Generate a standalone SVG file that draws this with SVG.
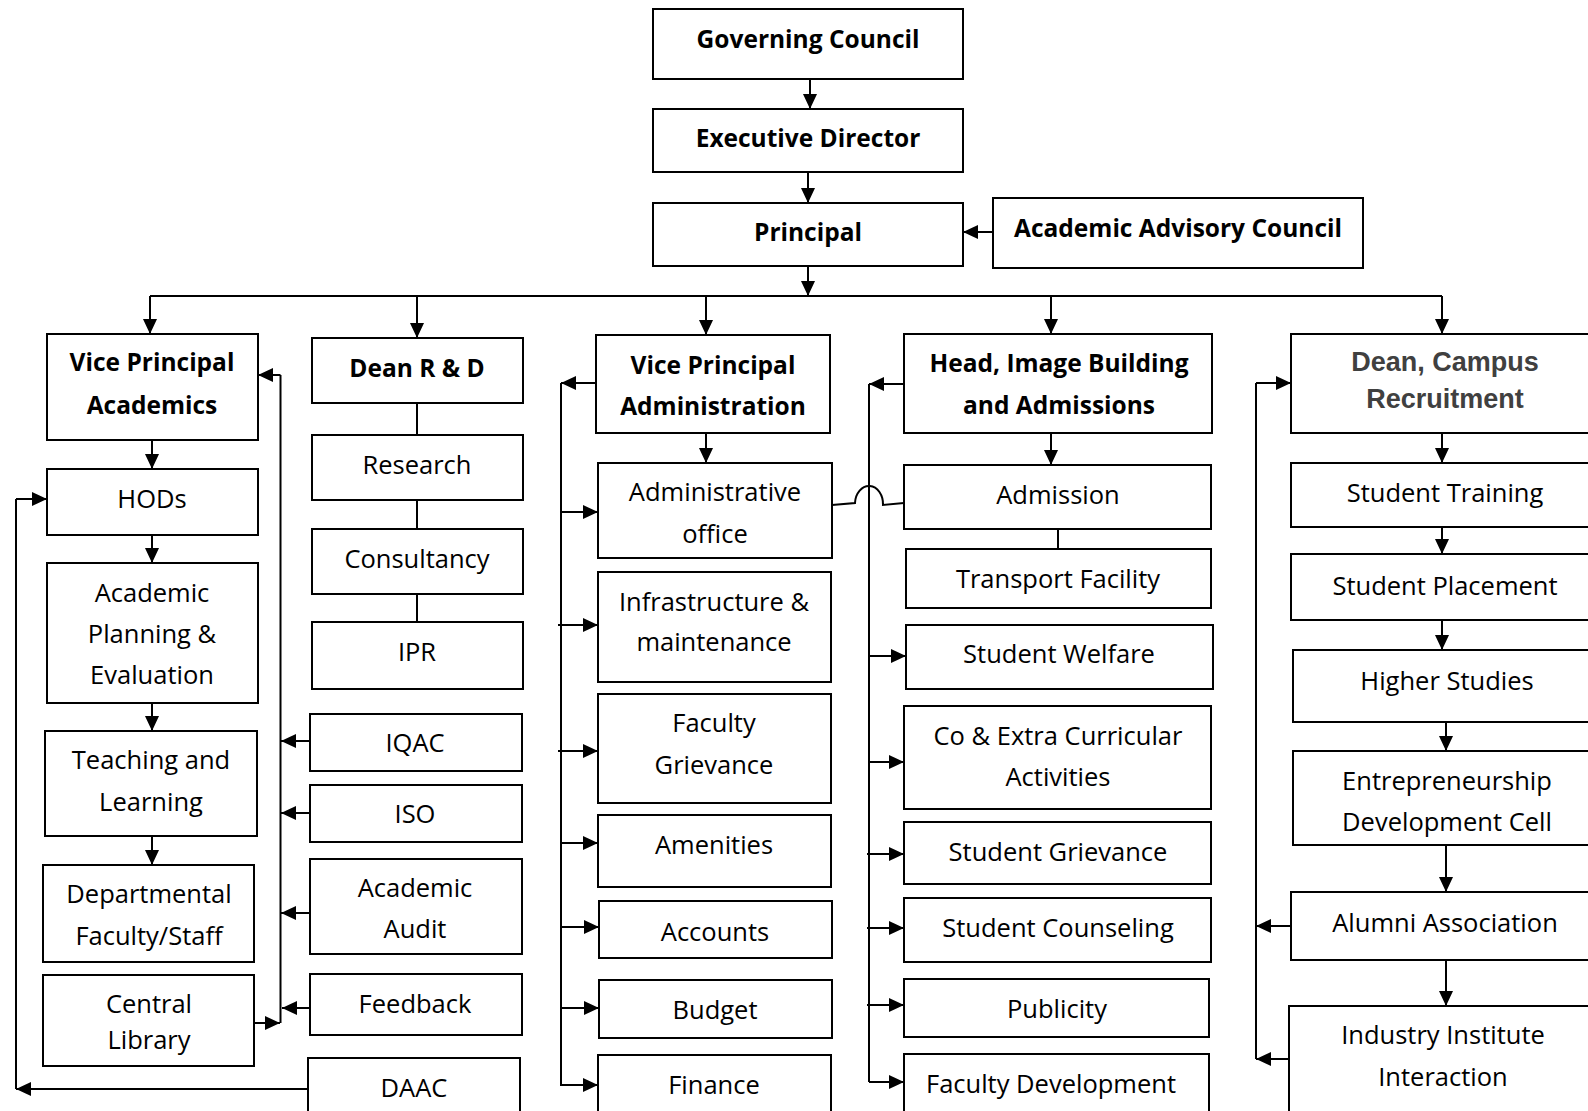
<svg xmlns="http://www.w3.org/2000/svg" width="1588" height="1111" viewBox="0 0 1588 1111">
<style>
.b{fill:#fff;stroke:#000;stroke-width:2}
.t{font-family:"Open Sans","Noto Sans",sans-serif;font-size:25.5px;fill:#000;text-anchor:middle}
.h{font-family:"Open Sans","Noto Sans",sans-serif;font-size:24.5px;font-weight:700;fill:#000;text-anchor:middle}
.g{font-family:"Liberation Sans",Arial,sans-serif;font-size:27px;font-weight:700;fill:#404040;text-anchor:middle}
.c{fill:none;stroke:#000;stroke-width:2}
.a{fill:none;stroke:#000;stroke-width:2;marker-end:url(#ah)}
</style>
<defs>
<marker id="ah" viewBox="0 0 15 14" refX="15" refY="7" markerWidth="15" markerHeight="14" markerUnits="userSpaceOnUse" orient="auto"><path d="M0,0 L15,7 L0,14 z" fill="#000"/></marker>
</defs>
<rect width="1588" height="1111" fill="#fff"/>
<g id="connectors">
<line class="a" x1="810" y1="79" x2="810" y2="109"/>
<line class="a" x1="808" y1="172" x2="808" y2="203"/>
<line class="a" x1="993" y1="232" x2="963" y2="232"/>
<line class="a" x1="808" y1="266" x2="808" y2="296"/>
<line class="c" x1="150" y1="296" x2="1442" y2="296"/>
<line class="a" x1="150" y1="296" x2="150" y2="334"/>
<line class="a" x1="417" y1="296" x2="417" y2="338"/>
<line class="a" x1="706" y1="296" x2="706" y2="335"/>
<line class="a" x1="1051" y1="296" x2="1051" y2="334"/>
<line class="a" x1="1442" y1="296" x2="1442" y2="334"/>
<line class="a" x1="152" y1="440" x2="152" y2="469"/>
<line class="a" x1="152" y1="535" x2="152" y2="563"/>
<line class="a" x1="152" y1="703" x2="152" y2="731"/>
<line class="a" x1="152" y1="836" x2="152" y2="865"/>
<polyline class="c" points="280.5,375 280.5,1023"/>
<line class="a" x1="280.5" y1="375" x2="258" y2="375"/>
<line class="a" x1="254" y1="1023" x2="280" y2="1023"/>
<line class="a" x1="310" y1="741" x2="281" y2="741"/>
<line class="a" x1="310" y1="813" x2="281" y2="813"/>
<line class="a" x1="310" y1="913" x2="281" y2="913"/>
<line class="a" x1="311" y1="1008" x2="282" y2="1008"/>
<polyline class="c" points="16,499 16,1089"/>
<line class="a" x1="16" y1="499" x2="47" y2="499"/>
<line class="a" x1="308" y1="1089" x2="16" y2="1089"/>
<line class="c" x1="417" y1="403" x2="417" y2="435"/>
<line class="c" x1="417" y1="500" x2="417" y2="529"/>
<line class="c" x1="417" y1="594" x2="417" y2="622"/>
<line class="a" x1="706" y1="433" x2="706" y2="463"/>
<polyline class="c" points="561,383 561,1085"/>
<line class="a" x1="596" y1="383" x2="561" y2="383"/>
<line class="a" x1="561" y1="512" x2="598" y2="512"/>
<line class="a" x1="558" y1="625" x2="598" y2="625"/>
<line class="a" x1="558" y1="751" x2="598" y2="751"/>
<line class="a" x1="561" y1="843" x2="598" y2="843"/>
<line class="a" x1="561" y1="927" x2="599" y2="927"/>
<line class="a" x1="561" y1="1008" x2="599" y2="1008"/>
<line class="a" x1="560" y1="1085" x2="598" y2="1085"/>
<path class="c" d="M832,505 L855,503 A14,18 0 0 1 883,505 L904,503"/>
<line class="a" x1="1051" y1="433" x2="1051" y2="465"/>
<line class="c" x1="1058" y1="529" x2="1058" y2="549"/>
<polyline class="c" points="869,384 869,1082"/>
<line class="a" x1="904" y1="384" x2="869" y2="384"/>
<line class="a" x1="869" y1="656" x2="906" y2="656"/>
<line class="a" x1="869" y1="762" x2="904" y2="762"/>
<line class="a" x1="867" y1="854" x2="904" y2="854"/>
<line class="a" x1="867" y1="928" x2="904" y2="928"/>
<line class="a" x1="867" y1="1005" x2="904" y2="1005"/>
<line class="a" x1="869" y1="1082" x2="904" y2="1082"/>
<line class="a" x1="1442" y1="433" x2="1442" y2="463"/>
<line class="a" x1="1442" y1="527" x2="1442" y2="554"/>
<line class="a" x1="1442" y1="620" x2="1442" y2="650"/>
<line class="a" x1="1446" y1="722" x2="1446" y2="751"/>
<line class="a" x1="1446" y1="845" x2="1446" y2="892"/>
<line class="a" x1="1446" y1="958" x2="1446" y2="1006"/>
<polyline class="c" points="1256,383 1256,1059"/>
<line class="a" x1="1256" y1="383" x2="1291" y2="383"/>
<line class="a" x1="1291" y1="926" x2="1256" y2="926"/>
<line class="a" x1="1289" y1="1059" x2="1256" y2="1059"/>
</g>
<g id="governing-council"><rect class="b" x="653" y="9" width="310" height="70"/><text class="h" x="808" y="48">Governing Council</text></g>
<g id="executive-director"><rect class="b" x="653" y="109" width="310" height="63"/><text class="h" x="808" y="146.5">Executive Director</text></g>
<g id="principal"><rect class="b" x="653" y="203" width="310" height="63"/><text class="h" x="808" y="240.5">Principal</text></g>
<g id="academic-advisory-council"><rect class="b" x="993" y="198" width="370" height="70"/><text class="h" x="1178" y="236.5">Academic Advisory Council</text></g>
<g id="vp-academics"><rect class="b" x="47" y="334" width="211" height="106"/><text class="h" x="152" y="371">Vice Principal</text><text class="h" x="152" y="413.5">Academics</text></g>
<g id="hods"><rect class="b" x="47" y="469" width="211" height="66"/><text class="t" x="152" y="508">HODs</text></g>
<g id="academic-planning"><rect class="b" x="47" y="563" width="211" height="140"/><text class="t" x="152" y="601.5">Academic</text><text class="t" x="152" y="643">Planning &amp;</text><text class="t" x="152" y="683.5">Evaluation</text></g>
<g id="teaching-learning"><rect class="b" x="45" y="731" width="212" height="105"/><text class="t" x="151" y="768.5">Teaching and</text><text class="t" x="151" y="811">Learning</text></g>
<g id="departmental-faculty"><rect class="b" x="43" y="865" width="211" height="97"/><text class="t" x="149" y="903">Departmental</text><text class="t" x="149" y="945">Faculty/Staff</text></g>
<g id="central-library"><rect class="b" x="43" y="975" width="211" height="91"/><text class="t" x="149" y="1012.5">Central</text><text class="t" x="149" y="1049">Library</text></g>
<g id="dean-rd"><rect class="b" x="312" y="338" width="211" height="65"/><text class="h" x="417" y="376.5">Dean R &amp; D</text></g>
<g id="research"><rect class="b" x="312" y="435" width="211" height="65"/><text class="t" x="417" y="474">Research</text></g>
<g id="consultancy"><rect class="b" x="312" y="529" width="211" height="65"/><text class="t" x="417" y="568">Consultancy</text></g>
<g id="ipr"><rect class="b" x="312" y="622" width="211" height="67"/><text class="t" x="417" y="661">IPR</text></g>
<g id="iqac"><rect class="b" x="310" y="714" width="212" height="57"/><text class="t" x="415" y="752">IQAC</text></g>
<g id="iso"><rect class="b" x="310" y="785" width="212" height="57"/><text class="t" x="415" y="823">ISO</text></g>
<g id="academic-audit"><rect class="b" x="310" y="859" width="212" height="95"/><text class="t" x="415" y="897">Academic</text><text class="t" x="415" y="938">Audit</text></g>
<g id="feedback"><rect class="b" x="310" y="974" width="212" height="61"/><text class="t" x="415" y="1013">Feedback</text></g>
<g id="daac"><rect class="b" x="308" y="1058" width="212" height="62"/><text class="t" x="414" y="1097">DAAC</text></g>
<g id="vp-administration"><rect class="b" x="596" y="335" width="234" height="98"/><text class="h" x="713" y="373.5">Vice Principal</text><text class="h" x="713" y="415">Administration</text></g>
<g id="administrative-office"><rect class="b" x="598" y="463" width="234" height="95"/><text class="t" x="715" y="501">Administrative</text><text class="t" x="715" y="543">office</text></g>
<g id="infrastructure"><rect class="b" x="598" y="572" width="233" height="110"/><text class="t" x="714" y="610.5">Infrastructure &amp;</text><text class="t" x="714" y="651">maintenance</text></g>
<g id="faculty-grievance"><rect class="b" x="598" y="694" width="233" height="109"/><text class="t" x="714" y="732">Faculty</text><text class="t" x="714" y="774">Grievance</text></g>
<g id="amenities"><rect class="b" x="598" y="815" width="233" height="72"/><text class="t" x="714" y="854">Amenities</text></g>
<g id="accounts"><rect class="b" x="599" y="901" width="233" height="57"/><text class="t" x="715" y="941">Accounts</text></g>
<g id="budget"><rect class="b" x="599" y="980" width="233" height="58"/><text class="t" x="715" y="1019">Budget</text></g>
<g id="finance"><rect class="b" x="598" y="1055" width="233" height="62"/><text class="t" x="714" y="1094">Finance</text></g>
<g id="head-image-building"><rect class="b" x="904" y="334" width="308" height="99"/><text class="h" x="1059" y="371.5">Head, Image Building</text><text class="h" x="1059" y="414">and Admissions</text></g>
<g id="admission"><rect class="b" x="904" y="465" width="307" height="64"/><text class="t" x="1058" y="504">Admission</text></g>
<g id="transport-facility"><rect class="b" x="906" y="549" width="305" height="59"/><text class="t" x="1058" y="588">Transport Facility</text></g>
<g id="student-welfare"><rect class="b" x="906" y="625" width="307" height="64"/><text class="t" x="1059" y="663">Student Welfare</text></g>
<g id="co-extra-curricular"><rect class="b" x="904" y="706" width="307" height="103"/><text class="t" x="1058" y="745">Co &amp; Extra Curricular</text><text class="t" x="1058" y="786">Activities</text></g>
<g id="student-grievance"><rect class="b" x="904" y="822" width="307" height="62"/><text class="t" x="1058" y="861">Student Grievance</text></g>
<g id="student-counseling"><rect class="b" x="904" y="898" width="307" height="64"/><text class="t" x="1058" y="937">Student Counseling</text></g>
<g id="publicity"><rect class="b" x="904" y="979" width="305" height="58"/><text class="t" x="1057" y="1018">Publicity</text></g>
<g id="faculty-development"><rect class="b" x="904" y="1054" width="305" height="64"/><text class="t" x="1051" y="1093">Faculty Development</text></g>
<g id="dean-campus-recruitment"><rect class="b" x="1291" y="334" width="310" height="99"/><text class="g" x="1445" y="371">Dean, Campus</text><text class="g" x="1445" y="408">Recruitment</text></g>
<g id="student-training"><rect class="b" x="1291" y="463" width="310" height="64"/><text class="t" x="1445" y="502">Student Training</text></g>
<g id="student-placement"><rect class="b" x="1291" y="554" width="310" height="66"/><text class="t" x="1445" y="594.5">Student Placement</text></g>
<g id="higher-studies"><rect class="b" x="1293" y="650" width="310" height="72"/><text class="t" x="1447" y="689.5">Higher Studies</text></g>
<g id="edc"><rect class="b" x="1293" y="751" width="310" height="94"/><text class="t" x="1447" y="790">Entrepreneurship</text><text class="t" x="1447" y="831">Development Cell</text></g>
<g id="alumni-association"><rect class="b" x="1291" y="892" width="310" height="68"/><text class="t" x="1445" y="931.5">Alumni Association</text></g>
<g id="industry-institute"><rect class="b" x="1289" y="1006" width="312" height="112"/><text class="t" x="1443" y="1044">Industry Institute</text><text class="t" x="1443" y="1085.5">Interaction</text></g>
</svg>
